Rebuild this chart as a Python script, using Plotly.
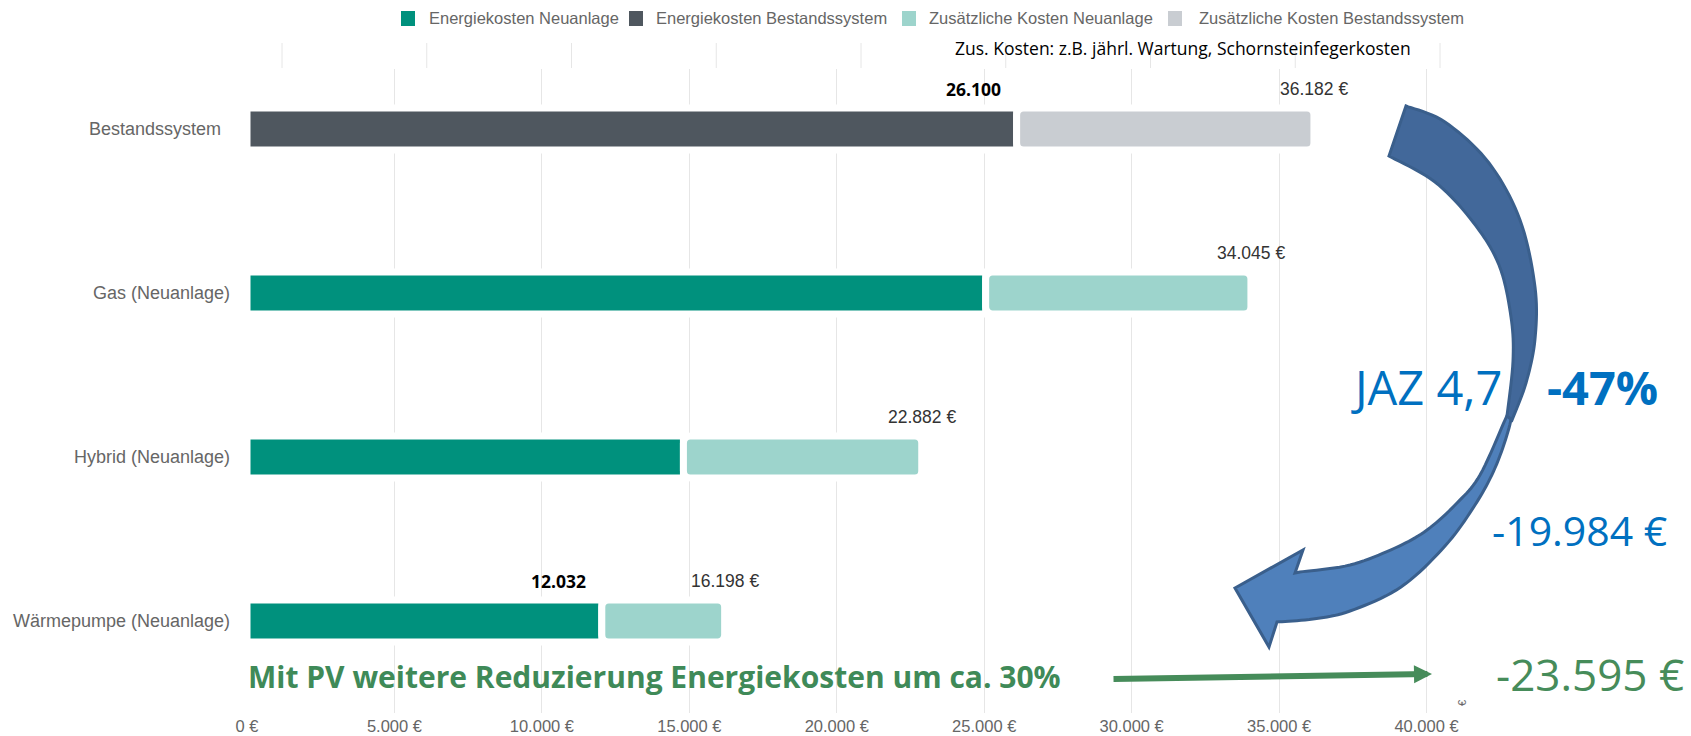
import numpy as np
import plotly.graph_objects as go

# ---------------- data ----------------
categories = ["Bestandssystem", "Gas (Neuanlage)", "Hybrid (Neuanlage)", "Wärmepumpe (Neuanlage)"]
is_existing = [True, False, False, False]
energy_costs = [26100, 25050, 14800, 12032]
total_costs = [36182, 34045, 22882, 16198]
show_energy_label = [True, False, False, True]
x_tickvals = [0, 5000, 10000, 15000, 20000, 25000, 30000, 35000, 40000]
x_ticktext = ["0 €", "5.000 €", "10.000 €", "15.000 €", "20.000 €", "25.000 €", "30.000 €", "35.000 €", "40.000 €"]
series_names = ["Energiekosten Neuanlage", "Energiekosten Bestandssystem",
                "Zusätzliche Kosten Neuanlage", "Zusätzliche Kosten Bestandssystem"]
series_colors = ["#00917d", "#4f575f", "#9dd4cc", "#c9cdd2"]

additional_costs = [t - e for t, e in zip(total_costs, energy_costs)]

def de(v):
    return f"{v:,}".replace(",", ".")

# ---------------- layout geometry ----------------
W, H = 1691, 736
ML, MR, MT, MB = 247, 235, 69, 23
PW, PH = W - ML - MR, H - MT - MB
XMAX = 41000

def px(x):
    return (x - ML) / PW

def py(y):
    return (H - MB - y) / PH

fig = go.Figure()

bar_w = 0.256
common = dict(orientation="h", width=bar_w, showlegend=False,
              marker_line_color="white", marker_line_width=7, marker_cornerradius=7,
              hoverinfo="skip")

fig.add_trace(go.Bar(name=series_names[0], y=categories,
                     x=[None if ex else v for ex, v in zip(is_existing, energy_costs)],
                     marker_color=series_colors[0], **common))
fig.add_trace(go.Bar(name=series_names[1], y=categories,
                     x=[v if ex else None for ex, v in zip(is_existing, energy_costs)],
                     marker_color=series_colors[1], **common))
fig.add_trace(go.Bar(name=series_names[2], y=categories,
                     x=[None if ex else v for ex, v in zip(is_existing, additional_costs)],
                     base=energy_costs,
                     marker_color=series_colors[2], **common))
fig.add_trace(go.Bar(name=series_names[3], y=categories,
                     x=[v if ex else None for ex, v in zip(is_existing, additional_costs)],
                     base=energy_costs,
                     marker_color=series_colors[3], **common))

annotations = []
shapes = []

# total labels
for c, t in zip(categories, total_costs):
    annotations.append(dict(x=t, y=c, xref="x", yref="y", text=de(t) + " €", showarrow=False,
                            yshift=40, xanchor="center", yanchor="middle",
                            font=dict(family="Liberation Sans, Arial", size=17.5, color="#333333")))
# energy labels
for c, e, s in zip(categories, energy_costs, show_energy_label):
    if s:
        annotations.append(dict(x=e, y=c, xref="x", yref="y", text="<b>" + de(e) + "</b>",
                                showarrow=False, yshift=40, xshift=-14, xanchor="right",
                                yanchor="middle",
                                font=dict(family="Open Sans, Arial", size=17.5, color="#000000")))

# custom legend (squares + real text)
legend_sq_x = [401, 629, 902, 1168]
legend_txt_x = [427, 654, 927, 1197]
for name, col, sx, tx in zip(series_names, series_colors, legend_sq_x, legend_txt_x):
    shapes.append(dict(type="rect", xref="paper", yref="paper", x0=px(sx), x1=px(sx + 14),
                       y0=py(26), y1=py(11), fillcolor=col, line=dict(width=0)))
    annotations.append(dict(x=px(tx), y=py(18.5), xref="paper", yref="paper", xanchor="left",
                            yanchor="middle", text=name, showarrow=False,
                            font=dict(family="Liberation Sans, Arial", size=16.5, color="#666666")))

# free texts
annotations += [
    dict(x=px(953), y=py(48), xref="paper", yref="paper", xanchor="left", yanchor="middle",
         text="Zus. Kosten: z.B. jährl. Wartung, Schornsteinfegerkosten", showarrow=False,
         font=dict(family="Open Sans", size=17.5, color="#000000")),
    dict(x=px(1349), y=py(387), xref="paper", yref="paper", xanchor="left", yanchor="middle",
         text="JAZ 4,7", showarrow=False, font=dict(family="Open Sans", size=47, color="#0070c0")),
    dict(x=px(1545), y=py(387), xref="paper", yref="paper", xanchor="left", yanchor="middle",
         text="<b>-47%</b>", showarrow=False, font=dict(family="Open Sans", size=47, color="#0070c0")),
    dict(x=px(1490), y=py(530), xref="paper", yref="paper", xanchor="left", yanchor="middle",
         text="-19.984 €", showarrow=False, font=dict(family="Open Sans", size=41, color="#0070c0")),
    dict(x=px(1494), y=py(674), xref="paper", yref="paper", xanchor="left", yanchor="middle",
         text="-23.595 €", showarrow=False, font=dict(family="Open Sans", size=44, color="#468c5a")),
    dict(x=px(246), y=py(676), xref="paper", yref="paper", xanchor="left", yanchor="middle",
         text="<b>Mit PV weitere Reduzierung Energiekosten um ca. 30%</b>", showarrow=False,
         font=dict(family="Open Sans", size=30, color="#3f8a58")),
    dict(x=px(1432), y=py(674), xref="paper", yref="paper", text="", showarrow=True,
         ax=-320, ay=5, arrowhead=2, arrowsize=0.6, arrowwidth=6, arrowcolor="#468c5a",
         standoff=0, startstandoff=0),
    dict(x=px(1470), y=py(708), xref="paper", yref="paper", text="€", showarrow=False,
         textangle=-90, font=dict(family="Liberation Sans", size=11, color="#666666")),
]

# ---------------- curved arrow (decoration) ----------------
def smooth(pts, n=10):
    pts = [np.array(p, float) for p in pts]
    out = []
    for i in range(len(pts) - 1):
        p0 = pts[i - 1] if i > 0 else pts[i]
        p1, p2 = pts[i], pts[i + 1]
        p3 = pts[i + 2] if i + 2 < len(pts) else pts[i + 1]
        for t in np.linspace(0, 1, n, endpoint=False):
            t2, t3 = t * t, t * t * t
            q = 0.5 * (2 * p1 + (-p0 + p2) * t + (2 * p0 - 5 * p1 + 4 * p2 - p3) * t2
                       + (-p0 + 3 * p1 - 3 * p2 + p3) * t3)
            out.append(q)
    out.append(pts[-1])
    return out

def path_of(points):
    return "M " + " L ".join(f"{px(p[0]):.5f},{py(p[1]):.5f}" for p in points) + " Z"

upper_outer = [(1406, 106), (1445, 122), (1489, 163), (1520, 220), (1535, 287), (1535, 339),
               (1526, 383), (1512, 420)]
upper_inner = [(1507, 416), (1513, 361), (1511, 317), (1499, 265), (1473, 222), (1435, 182),
               (1389, 156)]
lower_outer = [(1514, 400), (1509, 428), (1495, 468), (1475, 505), (1445, 546), (1401, 587),
               (1350, 611), (1313, 619), (1277, 622)]
head = [(1269, 647), (1235, 588), (1303, 550), (1295, 573)]
lower_inner = [(1300, 572), (1350, 565), (1395, 548), (1427, 530), (1457, 503), (1480, 475),
               (1505, 420)]

lower_pts = smooth(lower_outer) + head + smooth(lower_inner)
upper_pts = smooth(upper_outer) + smooth(upper_inner)
shapes.append(dict(type="path", xref="paper", yref="paper", path=path_of(lower_pts),
                   fillcolor="#4f80bb", line=dict(color="#3a5f8c", width=3)))
shapes.append(dict(type="path", xref="paper", yref="paper", path=path_of(upper_pts),
                   fillcolor="#42689a", line=dict(color="#3a5f8c", width=3)))

# faint offset grid strip at top (artefact of the original composite)
for k in range(9):
    xx = 282 + 144.75 * k
    shapes.append(dict(type="line", xref="paper", yref="paper", x0=px(xx), x1=px(xx),
                       y0=py(43), y1=py(68), line=dict(color="#e6e6e6", width=1), layer="below"))

fig.update_layout(
    width=W, height=H,
    margin=dict(l=ML, r=MR, t=MT, b=MB, pad=0, autoexpand=False),
    barmode="overlay",
    plot_bgcolor="white", paper_bgcolor="white",
    showlegend=False,
    annotations=annotations,
    shapes=shapes,
    xaxis=dict(range=[0, XMAX], tickvals=x_tickvals, ticktext=x_ticktext, showgrid=True,
               gridcolor="#e6e6e6", gridwidth=1, zeroline=False, showline=False,
               ticks="", ticklabelstandoff=1, automargin=False,
               tickfont=dict(family="Liberation Sans, Arial", size=16.5, color="#666666")),
    yaxis=dict(type="category", categoryorder="array", categoryarray=categories,
               range=[3.561, -0.366], showgrid=False, zeroline=False, showline=False, ticks="",
               ticklabelstandoff=16, automargin=False,
               ticktext=[c + ("\u2002" if c == "Bestandssystem" else "") for c in categories],
               tickvals=categories,
               tickfont=dict(family="Liberation Sans, Arial", size=18, color="#666666")),
)

fig.write_html("out.html", config={"displayModeBar": False},
               post_script="document.body.style.margin='0px';document.body.style.overflow='hidden';")
